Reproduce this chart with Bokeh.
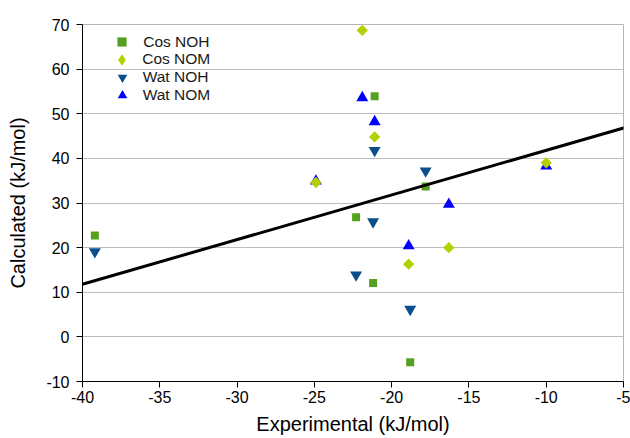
import numpy as np
from bokeh.plotting import figure
from bokeh.models import Range1d, Legend, LegendItem, Slope, FixedTicker, CustomJSTickFormatter
from bokeh.embed import file_html
from bokeh.resources import INLINE

# ---- data ----
cos_noh_x = [-39.2, -22.3, -21.1, -21.2, -18.8, -17.8]
cos_noh_y = [22.7, 26.8, 53.9, 12.1, -5.7, 33.7]

cos_nom_x = [-24.9, -21.9, -21.1, -18.9, -16.3, -10.0]
cos_nom_y = [34.6, 68.7, 44.8, 16.3, 20.0, 39.0]

wat_noh_x = [-39.2, -22.3, -21.2, -21.1, -18.8, -17.8]
wat_noh_y = [19.1, 13.9, 25.8, 41.8, 6.2, 37.2]

wat_nom_x = [-24.9, -21.9, -21.1, -18.9, -16.3, -10.0]
wat_nom_y = [34.9, 53.6, 48.2, 20.4, 29.7, 38.3]

trend_gradient = 1.0
trend_intercept = 51.8

x_ticks = [-40, -35, -30, -25, -20, -15, -10, -5]
y_ticks = [-10, 0, 10, 20, 30, 40, 50, 60, 70]

FONT = "Liberation Sans"
C_COS_NOH = "#56a020"
C_COS_NOM = "#b4d000"
C_WAT_NOH = "#0a4f8c"
C_WAT_NOM = "#0000ff"

W, H = 630, 438
BL, BR, BT, BB = 82, 7, 24, 57

p = figure(width=W, height=H,
           x_range=Range1d(-40, -5), y_range=Range1d(-10, 70),
           output_backend="svg", toolbar_location=None,
           min_border_left=BL, min_border_right=BR,
           min_border_top=BT, min_border_bottom=BB,
           background_fill_color="white", border_fill_color="white")

p.outline_line_color = "#b5b5b5"
p.outline_line_width = 1

# grid
p.xgrid.visible = False
p.ygrid.grid_line_color = "#bdbdbd"
p.ygrid.grid_line_width = 1
p.ygrid.ticker = FixedTicker(ticks=y_ticks)

fmt = "return tick.toFixed(0);"
for ax in (p.xaxis[0], p.yaxis[0]):
    ax.axis_line_color = "black"
    ax.axis_line_width = 1
    ax.major_tick_line_color = "black"
    ax.major_tick_out = 6
    ax.major_tick_in = 0
    ax.minor_tick_line_color = None
    ax.major_label_text_font = FONT
    ax.major_label_text_font_size = "16px"
    ax.major_label_text_color = "black"
    ax.axis_label_text_font = FONT
    ax.axis_label_text_font_style = "normal"
    ax.axis_label_text_color = "black"
    ax.formatter = CustomJSTickFormatter(code=fmt)

p.xaxis.ticker = FixedTicker(ticks=x_ticks)
p.yaxis.ticker = FixedTicker(ticks=y_ticks)
p.xaxis.axis_label = "Experimental (kJ/mol)"
p.yaxis.axis_label = "Calculated (kJ/mol)"
p.xaxis.axis_label_text_font_size = "20px"
p.yaxis.axis_label_text_font_size = "20px"
p.xaxis.major_label_standoff = 3
p.xaxis.axis_label_standoff = 7
p.yaxis.major_label_standoff = 7
p.yaxis.axis_label_standoff = 14

# trend line (under markers)
p.add_layout(Slope(gradient=trend_gradient, y_intercept=trend_intercept,
                   line_color="black", line_width=3))

# markers (draw order so that Cos NOM sits over Wat NOM)
r_wat_nom = p.scatter(wat_nom_x, wat_nom_y, marker="triangle", size=12,
                      fill_color=C_WAT_NOM, line_color=None)
r_wat_noh = p.scatter(wat_noh_x, wat_noh_y, marker="inverted_triangle", size=12,
                      fill_color=C_WAT_NOH, line_color=None)
r_cos_nom = p.scatter(cos_nom_x, cos_nom_y, marker="square", size=8, angle=np.pi / 4,
                      fill_color=C_COS_NOM, line_color=None)
r_cos_noh = p.scatter(cos_noh_x, cos_noh_y, marker="square", size=8,
                      fill_color=C_COS_NOH, line_color=None)
# legend-only diamond glyph (legend glyphs are never rotated); NaN -> not drawn in plot
r_cos_nom_key = p.scatter(x=np.array([np.nan]), y=np.array([np.nan]), marker="diamond",
                          size=12, fill_color=C_COS_NOM, line_color=None)

# one legend per entry so that rows can be tighter than the glyph boxes
frame_h = H - BT - BB
entries = [("Cos NOH", r_cos_noh, 23),
           ("Cos NOM", r_cos_nom_key, 29),
           ("Wat NOH", r_wat_noh, 24),
           ("Wat NOM", r_wat_nom, 24)]
first_row = 17.7      # px below frame top
row_step = 17.7
key_center_x = 39.7   # px right of frame left
text_start_x = 60.7
for i, (label, rend, g) in enumerate(entries):
    yc = first_row + i * row_step
    lx = key_center_x - g / 2
    ly = frame_h - (yc + g / 2)
    leg = Legend(items=[LegendItem(label=label, renderers=[rend])], location=(lx, ly))
    leg.border_line_color = None
    leg.background_fill_alpha = 0
    leg.padding = 0
    leg.margin = 0
    leg.spacing = 0
    leg.glyph_width = g
    leg.glyph_height = g
    leg.label_height = g
    leg.label_standoff = int(round(text_start_x - lx - g))
    leg.label_text_font = FONT
    leg.label_text_font_size = "15.5px"
    leg.label_text_color = "#1a1a1a"
    p.add_layout(leg)

open("out.html", "w").write(file_html(p, INLINE))
